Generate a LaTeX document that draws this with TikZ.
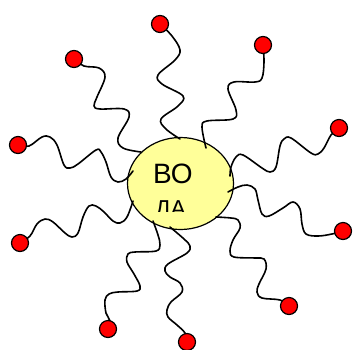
\documentclass[tikz,border=0pt]{standalone}
\usepackage{fontspec}
\newfontfamily\arialfont{Liberation Sans}
\usetikzlibrary{shapes.geometric}
\definecolor{coreyellow}{HTML}{FFFF99}
\definecolor{headred}{HTML}{FF0000}
\tikzset{
  core/.style={ellipse, draw=black, line width=1.2pt, fill=coreyellow,
    minimum width=106pt, minimum height=92pt, inner sep=0pt},
  head/.style={circle, draw=black, line width=1.2pt, fill=headred,
    minimum size=17pt, inner sep=0pt},
  tail/.style={draw=black, line width=1.6pt, line join=round, line cap=round},
  label/.style={inner sep=0pt, font=\arialfont, anchor=base west}
}
\begin{document}
\begin{tikzpicture}[x=1pt, y=-1pt]
  \useasboundingbox (0,0) rectangle (358,349);

  % core of the micelle
  \node[core] (core) at (180.5,183.5) {};
  \node[label, font=\arialfont\fontsize{28}{28}\selectfont] (top) at (153,183) {ВО};
  \begin{scope}
    \clip (140,195) rectangle (200,211.7);
    \node[label, font=\arialfont\fontsize{23}{23}\selectfont] (bottom) at (154.8,216.5) {ДА};
  \end{scope}

  % positions of the polar heads
  \coordinate (p1)  at (160,24);
  \coordinate (p2)  at (263,45);
  \coordinate (p3)  at (74,59);
  \coordinate (p4)  at (339,128);
  \coordinate (p5)  at (18,145);
  \coordinate (p6)  at (343,231);
  \coordinate (p7)  at (20,243);
  \coordinate (p8)  at (289,306);
  \coordinate (p9)  at (108,329);
  \coordinate (p10) at (187,342);

  % hydrocarbon tails
  \draw[tail] plot[smooth, tension=0.6] coordinates {(p1) (172,36) (180,50) (175,60) (158,75) (162,84) (183,96) (178,106) (161,119) (166,129) (180,139)};
  \draw[tail] plot[smooth, tension=0.6] coordinates {(p2) (264,62) (262,78) (255,82) (234,82) (228,89) (236,110) (233,119) (207,121) (202,127) (206,148)};
  \draw[tail] plot[smooth, tension=0.6] coordinates {(p3) (84,66) (99,68) (105,77) (97,97) (94,106) (100,109) (124,109) (129,117) (118,138) (123,148) (141,152)};
  \draw[tail] plot[smooth, tension=0.6] coordinates {(p4) (331,135) (324,148) (318,154) (311,153) (291,138) (284,139) (280,146) (276,167) (270,172) (262,168) (243,155) (236,157) (231,167) (230,176)};
  \draw[tail] plot[smooth, tension=0.6] coordinates {(p5) (29,146) (42,137) (50,137) (57,145) (64,165) (70,168) (78,164) (96,150) (101,152) (106,162) (111,177) (118,182) (126,179) (133,171)};
  \draw[tail] plot[smooth, tension=0.6] coordinates {(p6) (332,234) (318,236) (306,234) (302,224) (300,209) (293,202) (283,208) (269,216) (262,214) (258,200) (255,189) (247,185) (238,187) (228,192)};
  \draw[tail] plot[smooth, tension=0.6] coordinates {(p7) (30,236) (37,224) (45,219) (53,222) (65,233) (72,237) (78,233) (83,217) (89,206) (96,206) (104,212) (113,221) (120,223) (127,217) (133,201)};
  \draw[tail] plot[smooth, tension=0.6] coordinates {(p8) (280,300) (262,298) (257,292) (259,284) (266,269) (264,259) (255,258) (234,257) (230,251) (233,240) (240,228) (238,220) (231,218) (216,217)};
  \draw[tail] plot[smooth, tension=0.6] coordinates {(p9) (110,321) (106,313) (105,300) (109,294) (118,292) (137,291) (140,286) (134,274) (127,262) (128,254) (135,252) (156,251) (160,245) (158,235) (153,221)};
  \draw[tail] plot[smooth, tension=0.6] coordinates {(p10) (185,333) (177,325) (168,317) (167,310) (171,302) (182,292) (180,283) (170,277) (165,271) (168,264) (187,253) (190,246) (184,239) (170,227)};

  % polar heads, over the tail ends
  \foreach \i in {1,...,10}
    \node[head] (h\i) at (p\i) {};
\end{tikzpicture}
\end{document}
